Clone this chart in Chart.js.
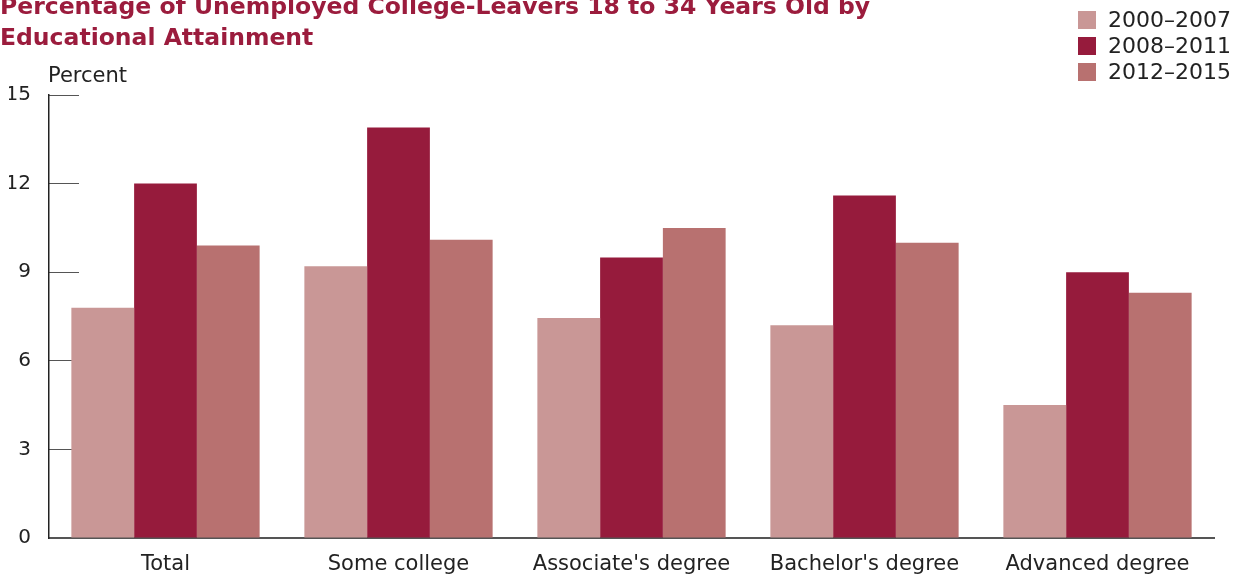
<!DOCTYPE html>
<html>
<head>
<meta charset="utf-8">
<script src="https://cdn.jsdelivr.net/npm/chart.js@4/dist/chart.umd.min.js"></script>
<style>
  body { margin: 0; background: #fff; overflow: hidden; }
  #wrap { position: relative; width: 1244px; height: 576px; overflow: hidden; }
  #title {
    position: absolute; left: 0; top: -9px; margin: 0;
    font: bold 23.5px "DejaVu Sans", sans-serif; line-height: 31px;
    color: #9b1c3d;
  }
  #unit { position: absolute; left: 48px; top: 63px; font: 21px "DejaVu Sans", sans-serif; color: #222; }
  #legend { position: absolute; left: 1078px; top: 7px; font: 22px "DejaVu Sans", sans-serif; color: #222; }
  #legend div { height: 26px; line-height: 26px; white-space: nowrap; }
  #legend span { display: inline-block; width: 18px; height: 18px; margin-right: 12px; vertical-align: -2px; }
</style>
</head>
<body>
<div id="wrap">
  <canvas id="myChart" width="1244" height="576"></canvas>
  <div id="title">Percentage of Unemployed College-Leavers 18 to 34 Years Old by<br>Educational Attainment</div>
  <div id="unit">Percent</div>
  <div id="legend"></div>
</div>
<script>
const categories = ["Total", "Some college", "Associate's degree", "Bachelor's degree", "Advanced degree"];
const periods = ["2000\u20132007", "2008\u20132011", "2012\u20132015"];
const values2000to2007 = [7.8, 9.2, 7.45, 7.2, 4.5];
const values2008to2011 = [12.0, 13.9, 9.5, 11.6, 9.0];
const values2012to2015 = [9.9, 10.1, 10.5, 10.0, 8.3];
const yTicks = [0, 3, 6, 9, 12, 15];

const colors = ["#c99796", "#961b3c", "#b87170"];

const ctx = document.getElementById("myChart").getContext("2d");
const myChart = new Chart(ctx, {
  type: "bar",
  data: {
    labels: categories,
    datasets: [
      { label: periods[0], data: values2000to2007, backgroundColor: colors[0] },
      { label: periods[1], data: values2008to2011, backgroundColor: colors[1] },
      { label: periods[2], data: values2012to2015, backgroundColor: colors[2] },
    ],
  },
  options: {
    responsive: false,
    animation: false,
    categoryPercentage: 0.808,
    barPercentage: 1.0,
    layout: { padding: { top: 95, right: 30, left: 9, bottom: 2 } },
    plugins: { legend: { display: false }, tooltip: { enabled: false } },
    scales: {
      x: {
        grid: { display: false, drawTicks: false },
        border: { display: true, color: "#555", width: 2 },
        ticks: { color: "#222", font: { family: "DejaVu Sans", size: 21 }, padding: 14 },
        afterFit: (axis) => { axis.height = 36; },
      },
      y: {
        min: 0,
        max: 15,
        afterBuildTicks: (axis) => { axis.ticks = yTicks.map(v => ({ value: v })); },
        grid: { drawOnChartArea: false, drawTicks: true, tickLength: -30, color: "#555", lineWidth: 1 },
        border: { display: true, color: "#222", width: 1.5 },
        ticks: { color: "#222", font: { family: "DejaVu Sans", size: 20 }, padding: 48 },
        afterFit: (axis) => {
          axis.width = 40;
          axis.paddingTop = 0;
          axis.paddingBottom = 0;
        },
      },
    },
  },
});

// legend built from the chart's datasets
const legendEl = document.getElementById("legend");
myChart.data.datasets.forEach(ds => {
  const row = document.createElement("div");
  const sw = document.createElement("span");
  sw.style.background = ds.backgroundColor;
  row.appendChild(sw);
  row.appendChild(document.createTextNode(ds.label));
  legendEl.appendChild(row);
});
</script>
</body>
</html>
